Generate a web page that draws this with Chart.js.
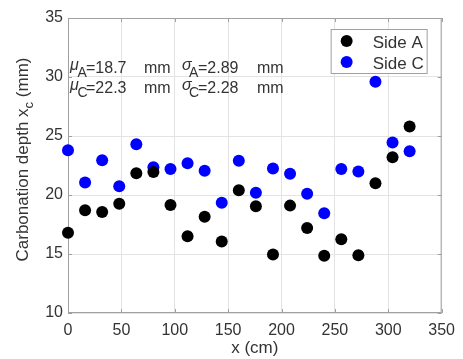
<!DOCTYPE html>
<html>
<head>
<meta charset="utf-8">
<script src="https://cdn.jsdelivr.net/npm/chart.js@4.4.0/dist/chart.umd.min.js"></script>
<style>
html, body { margin: 0; padding: 0; background: #fff; }
#grafico { display: block; }
</style>
</head>
<body>
<canvas id="grafico" width="463" height="359"></canvas>
<script>
// Dados
const posicoes = [0, 16, 32, 48, 64, 80, 96, 112, 128, 144, 160, 176, 192, 208, 224, 240, 256, 272, 288, 304, 320];
const ladoA = [16.8, 18.7, 18.55, 19.25, 21.85, 21.95, 19.15, 16.5, 18.15, 16.05, 20.4, 19.05, 14.95, 19.1, 17.2, 14.85, 16.25, 14.9, 21.0, 23.2, 25.8];
const ladoC = [23.8, 21.05, 22.95, 20.75, 24.3, 22.35, 22.2, 22.7, 22.05, 19.35, 22.9, 20.2, 22.25, 21.8, 20.1, 18.45, 22.2, 22.0, 29.6, 24.45, 23.7];
const nomesSeries = ['Side A', 'Side C'];
const coresSeries = ['#000000', '#0000ff'];
const ticksX = [0, 50, 100, 150, 200, 250, 300, 350];
const ticksY = [10, 15, 20, 25, 30, 35];
const linhasTexto = [
    ['A', '=18.7', '=2.89'],
    ['C', '=22.3', '=2.28']
];

const fonte = "'Liberation Sans', Arial, sans-serif";
const corTexto = '#333333';
const corEixo = '#a0a0a0';
const corGrade = '#e3e3e3';

const pontos = (vals) => vals.map((v, i) => ({ x: posicoes[i], y: v }));

// Moldura, ticks internos, legenda, anotação e título do eixo y
const extrasPlugin = {
    id: 'extras',
    beforeDatasetsDraw(chart) {
        const { ctx, chartArea: a, scales: { x, y } } = chart;
        ctx.save();
        ctx.strokeStyle = corEixo;
        ctx.lineWidth = 1;
        ctx.strokeRect(a.left + 0.5, a.top + 0.5, a.right - a.left - 1, a.bottom - a.top - 1);
        ctx.beginPath();
        ticksX.forEach(v => {
            const px = Math.round(x.getPixelForValue(v)) + 0.5;
            ctx.moveTo(px, a.bottom); ctx.lineTo(px, a.bottom - 4);
            ctx.moveTo(px, a.top); ctx.lineTo(px, a.top + 4);
        });
        ticksY.forEach(v => {
            const py = Math.round(y.getPixelForValue(v)) + 0.5;
            ctx.moveTo(a.left, py); ctx.lineTo(a.left + 4, py);
            ctx.moveTo(a.right, py); ctx.lineTo(a.right - 4, py);
        });
        ctx.stroke();
        ctx.restore();
    },
    afterDraw(chart) {
        const { ctx, chartArea: a } = chart;
        ctx.save();
        ctx.fillStyle = corTexto;
        ctx.textBaseline = 'alphabetic';
        ctx.textAlign = 'left';

        // anotação com médias e desvios
        linhasTexto.forEach((linha, i) => {
            const base = a.top + 54.5 + i * 20;
            ctx.font = 'italic 16px ' + fonte;
            ctx.fillText('\u03bc', a.left + 2, base - 3);
            ctx.fillText('\u03c3', a.left + 114, base - 3);
            ctx.font = '14px ' + fonte;
            ctx.fillText(linha[0], a.left + 9.5, base + 4);
            ctx.fillText(linha[0], a.left + 121, base + 4);
            ctx.font = '16px ' + fonte;
            ctx.fillText(linha[1], a.left + 18, base);
            ctx.fillText('mm', a.left + 76, base);
            ctx.fillText(linha[2], a.left + 130, base);
            ctx.fillText('mm', a.left + 189, base);
        });

        // legenda
        const lx = a.right - 14 - 97, ly = a.top + 11;
        ctx.fillStyle = '#ffffff';
        ctx.fillRect(lx, ly, 97, 45);
        ctx.strokeStyle = corEixo;
        ctx.strokeRect(lx + 0.5, ly + 0.5, 96, 44);
        nomesSeries.forEach((nome, i) => {
            const cy = ly + 12 + i * 21;
            ctx.fillStyle = coresSeries[i];
            ctx.beginPath();
            ctx.arc(lx + 16, cy, 6, 0, Math.PI * 2);
            ctx.fill();
            ctx.fillStyle = corTexto;
            ctx.font = '17px ' + fonte;
            ctx.fillText(nome, lx + 42, cy + 6.5);
        });

        // título do eixo y com subscrito
        ctx.translate(28, (a.top + a.bottom) / 2 - 6);
        ctx.rotate(-Math.PI / 2);
        const partes = [
            ['Carbonation depth x', '17px ', 0],
            ['c', '13px ', 5],
            [' (mm)', '17px ', 0]
        ];
        let larg = 0;
        partes.forEach(p => { ctx.font = p[1] + fonte; larg += ctx.measureText(p[0]).width; });
        let px = -larg / 2;
        partes.forEach(p => {
            ctx.font = p[1] + fonte;
            ctx.fillText(p[0], px, p[2]);
            px += ctx.measureText(p[0]).width;
        });
        ctx.restore();
    }
};

const ctxGrafico = document.getElementById('grafico').getContext('2d');
new Chart(ctxGrafico, {
    type: 'scatter',
    data: {
        datasets: [
            {
                label: nomesSeries[0],
                data: pontos(ladoA),
                backgroundColor: coresSeries[0],
                borderWidth: 0,
                pointRadius: 6,
                clip: false
            },
            {
                label: nomesSeries[1],
                data: pontos(ladoC),
                backgroundColor: coresSeries[1],
                borderWidth: 0,
                pointRadius: 6,
                clip: false
            }
        ]
    },
    options: {
        responsive: false,
        animation: false,
        layout: { padding: { top: 18, right: 13, left: 0, bottom: 0 } },
        plugins: {
            legend: { display: false },
            tooltip: { enabled: false }
        },
        scales: {
            x: {
                type: 'linear',
                min: 0,
                max: 350,
                afterBuildTicks: (s) => { s.ticks = ticksX.map(v => ({ value: v })); },
                afterFit: (s) => { s.height = 46; },
                grid: { color: corGrade, drawTicks: false },
                border: { display: false },
                ticks: { color: corTexto, font: { family: fonte, size: 16 }, padding: 8, maxRotation: 0 },
                title: { display: true, text: 'x (cm)', color: corTexto, font: { family: fonte, size: 17 }, padding: { top: 0, bottom: 0 } }
            },
            y: {
                type: 'linear',
                min: 10,
                max: 35,
                afterBuildTicks: (s) => { s.ticks = ticksY.map(v => ({ value: v })); },
                afterFit: (s) => { s.width = 68; },
                grid: { color: corGrade, drawTicks: false },
                border: { display: false },
                ticks: { color: corTexto, font: { family: fonte, size: 16 }, padding: 5 }
            }
        }
    },
    plugins: [extrasPlugin]
});
</script>
</body>
</html>
